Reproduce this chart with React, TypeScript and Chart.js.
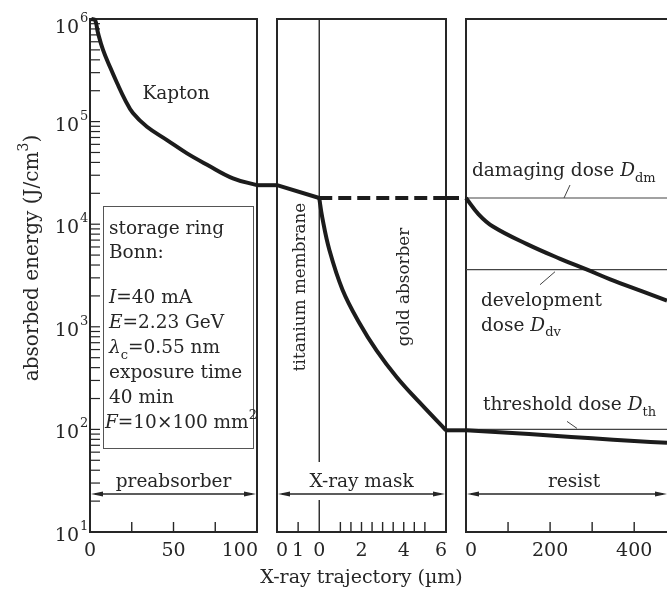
import React, { useEffect, useRef } from 'react';
import { Chart, registerables } from 'chart.js';

Chart.register(...registerables);

// ---------- data ----------
// Kapton preabsorber, depth in µm (0..100)
const kaptonX = [0.8, 3, 4.8, 7.8, 12, 16.2, 21, 25.7, 34.1, 46.1, 58.1, 70.1, 85.6, 100];
const kaptonY = [1.0e6, 9.8e5, 7.3e5, 5.0e5, 3.4e5, 2.38e5, 1.63e5, 1.21e5, 8.9e4, 6.6e4, 4.9e4, 3.8e4, 2.8e4, 2.4e4];
// gap between preabsorber and mask (no material)
const gap1X = [0, 1];
const gap1Y = [2.4e4, 2.4e4];
// titanium membrane, plotted as -2..0 µm on the mask axis
const titaniumX = [-2, 0];
const titaniumY = [2.4e4, 1.8e4];
// gold absorber 0..6 µm
const goldX = [0, 0.14, 0.48, 1.1, 1.9, 2.71, 3.67, 4.76, 6];
const goldY = [1.8e4, 1.17e4, 5.6e3, 2.3e3, 1.09e3, 590, 323, 182, 98];
// unabsorbed (open) path through the mask, dashed
const openMaskX = [0, 6];
const openMaskY = [1.8e4, 1.8e4];
const gap2X = [0, 1];
const gap2OpenY = [1.8e4, 1.8e4];
const gap2MaskedY = [98, 98];
// resist, depth in µm
const resistOpenX = [0, 30, 64, 145, 224, 288, 343, 421, 478];
const resistOpenY = [1.8e4, 1.25e4, 9.5e3, 6.4e3, 4.6e3, 3.6e3, 2.9e3, 2.2e3, 1.8e3];
const resistMaskedX = [0, 100, 200, 300, 400, 478];
const resistMaskedY = [98, 93, 87, 82, 77, 74];
// dose levels
const doseNames = ['damaging', 'development', 'threshold'];
const doseValues = [1.8e4, 3.6e3, 100];
const resistRange = [0, 478];

// axis ranges / ticks
const yDecades = [1, 2, 3, 4, 5, 6];
const kaptonRange = [0, 100];
const kaptonMinorTicks = [25, 50, 75];
const kaptonLabelValues = [0, 50, 100];
const kaptonLabelText = ['0', '50', '100'];
const maskRange = [-2, 6];
const maskMinorTicks = [-1, 1, 1.5, 2, 2.5, 3, 3.5, 4, 4.5, 5];
const maskLabelValues = [-2, -1, 0, 2, 4, 6];
const maskLabelText = ['0', '1', '0', '2', '4', '6'];
const resistMinorTicks = [100, 200, 300, 400];
const resistLabelValues = [0, 200, 400];
const resistLabelText = ['0', '200', '400'];

// ---------- drawing helpers ----------
const FF = '"DejaVu Serif", "Liberation Serif", serif';
const INK = '#262626';
const TEXT = 18.5;
const ROT_TEXT = 16.8;

type Seg = { t: string; it?: boolean; sub?: boolean; sup?: boolean };

function segFont(s: Seg, size: number) {
  const sz = s.sub || s.sup ? Math.round(size * 0.68) : size;
  return `${s.it ? 'italic ' : ''}${sz}px ${FF}`;
}
function richWidth(ctx: CanvasRenderingContext2D, segs: Seg[], size: number) {
  let w = 0;
  for (const s of segs) {
    ctx.font = segFont(s, size);
    w += ctx.measureText(s.t).width;
  }
  return w;
}
function drawRich(
  ctx: CanvasRenderingContext2D,
  segs: Seg[],
  x: number,
  y: number,
  size: number,
  align: 'left' | 'center' | 'right' = 'left'
) {
  const w = richWidth(ctx, segs, size);
  let cx = align === 'left' ? x : align === 'center' ? x - w / 2 : x - w;
  ctx.textAlign = 'left';
  ctx.textBaseline = 'alphabetic';
  for (const s of segs) {
    ctx.font = segFont(s, size);
    const dy = s.sub ? size * 0.3 : s.sup ? -size * 0.5 : 0;
    ctx.fillText(s.t, cx, y + dy);
    cx += ctx.measureText(s.t).width;
  }
}
function drawRotated(ctx: CanvasRenderingContext2D, segs: Seg[], cx: number, cy: number, size: number) {
  ctx.save();
  ctx.translate(cx, cy);
  ctx.rotate(-Math.PI / 2);
  drawRich(ctx, segs, 0, size * 0.35, size, 'center');
  ctx.restore();
}
function line(ctx: CanvasRenderingContext2D, x1: number, y1: number, x2: number, y2: number) {
  ctx.beginPath();
  ctx.moveTo(x1, y1);
  ctx.lineTo(x2, y2);
  ctx.stroke();
}
function arrow(ctx: CanvasRenderingContext2D, x1: number, x2: number, y: number) {
  ctx.lineWidth = 1.3;
  line(ctx, x1 + 4, y, x2 - 4, y);
  const L = 12, H = 2.6;
  ctx.beginPath();
  ctx.moveTo(x1, y);
  ctx.lineTo(x1 + L, y - H);
  ctx.lineTo(x1 + L, y + H);
  ctx.closePath();
  ctx.fill();
  ctx.beginPath();
  ctx.moveTo(x2, y);
  ctx.lineTo(x2 - L, y - H);
  ctx.lineTo(x2 - L, y + H);
  ctx.closePath();
  ctx.fill();
}

const pts = (xs: number[], ys: number[]) => xs.map((x, i) => ({ x, y: ys[i] }));

const decorPlugin = {
  id: 'decor',
  beforeDraw(chart: any) {
    const { ctx, width, height } = chart;
    ctx.save();
    ctx.fillStyle = '#ffffff';
    ctx.fillRect(0, 0, width, height);
    ctx.restore();
  },
  beforeDatasetsDraw(chart: any) {
    const { ctx, chartArea: ca, scales } = chart;
    const y = scales.y;
    const top = ca.top;
    const bottom = ca.bottom;
    const K = scales.xK, M = scales.xM, R = scales.xR;
    ctx.save();
    ctx.strokeStyle = INK;
    ctx.fillStyle = INK;
    // panel frames
    ctx.lineWidth = 2;
    ctx.strokeRect(K.left, top, K.right - K.left, bottom - top);
    ctx.strokeRect(M.left, top, M.right - M.left, bottom - top);
    ctx.beginPath();
    ctx.moveTo(R.right + 4, top);
    ctx.lineTo(R.left, top);
    ctx.lineTo(R.left, bottom);
    ctx.lineTo(R.right + 4, bottom);
    ctx.stroke();
    // y minor ticks (inside, panel 1)
    ctx.lineWidth = 1.2;
    for (const d of yDecades) {
      for (let m = 1; m <= 9; m++) {
        const v = m * Math.pow(10, d - 1);
        if (v < y.min || v > y.max) continue;
        const py = y.getPixelForValue(v);
        line(ctx, K.left, py, K.left + 10, py);
      }
    }
    line(ctx, K.left, y.getPixelForValue(1e6), K.left + 10, y.getPixelForValue(1e6));
    // x ticks (inside)
    ctx.lineWidth = 1.4;
    for (const v of kaptonMinorTicks) {
      const px = K.getPixelForValue(v);
      line(ctx, px, bottom, px, bottom - 10);
    }
    for (const v of maskMinorTicks) {
      const px = M.getPixelForValue(v);
      line(ctx, px, bottom, px, bottom - 10);
    }
    for (const v of resistMinorTicks) {
      const px = R.getPixelForValue(v);
      line(ctx, px, bottom, px, bottom - 10);
    }
    // titanium / gold divider
    const m0 = M.getPixelForValue(0);
    line(ctx, m0, top, m0, 462);
    line(ctx, m0, 500, m0, bottom);
    ctx.restore();
  },
  afterDatasetsDraw(chart: any) {
    const { ctx, chartArea: ca, scales } = chart;
    const y = scales.y;
    const K = scales.xK, M = scales.xM, R = scales.xR;
    ctx.save();
    ctx.fillStyle = INK;
    ctx.strokeStyle = INK;

    // y tick labels 10^n
    for (const d of yDecades) {
      const py = y.getPixelForValue(Math.pow(10, d));
      const base = Math.max(py + 9, ca.top + 14);
      ctx.font = `19px ${FF}`;
      ctx.textAlign = 'right';
      ctx.textBaseline = 'alphabetic';
      ctx.fillText('10', 79, base);
      ctx.font = `13px ${FF}`;
      ctx.textAlign = 'left';
      ctx.fillText(String(d), 80, base - 11);
    }
    // x tick labels
    const xl = (s: any, vals: number[], txt: string[], firstAlign: CanvasTextAlign, lastAlign: CanvasTextAlign) => {
      ctx.font = `19px ${FF}`;
      ctx.textBaseline = 'alphabetic';
      vals.forEach((v, i) => {
        let px = s.getPixelForValue(v);
        let al: CanvasTextAlign = 'center';
        if (i === 0) al = firstAlign;
        if (i === vals.length - 1) al = lastAlign;
        if (al === 'left') px -= 1;
        if (al === 'right') px += 1;
        ctx.textAlign = al;
        ctx.fillText(txt[i], px, 556);
      });
    };
    xl(K, kaptonLabelValues, kaptonLabelText, 'center', 'right');
    xl(M, maskLabelValues, maskLabelText, 'left', 'right');
    xl(R, resistLabelValues, resistLabelText, 'left', 'center');

    // axis titles
    drawRich(ctx, [{ t: 'X-ray trajectory (µm)' }], (M.left + M.right) / 2, 583, 19, 'center');
    drawRotated(ctx, [{ t: 'absorbed energy (J/cm' }, { t: '3', sup: true }, { t: ')' }], 31, 258, 20);

    // panel 1 texts
    drawRich(ctx, [{ t: 'Kapton' }], 176, 99, TEXT, 'center');
    ctx.lineWidth = 1;
    ctx.strokeStyle = '#555';
    ctx.strokeRect(103.5, 206.5, 150, 242);
    const lx = 109;
    drawRich(ctx, [{ t: 'storage ring' }], lx, 234, TEXT);
    drawRich(ctx, [{ t: 'Bonn:' }], lx, 258, TEXT);
    drawRich(ctx, [{ t: 'I', it: true }, { t: '=40 mA' }], lx, 303, TEXT);
    drawRich(ctx, [{ t: 'E', it: true }, { t: '=2.23 GeV' }], lx, 328, TEXT);
    drawRich(ctx, [{ t: 'λ', it: true }, { t: 'c', sub: true }, { t: '=0.55 nm' }], lx, 353, TEXT);
    drawRich(ctx, [{ t: 'exposure time' }], lx, 378, TEXT);
    drawRich(ctx, [{ t: '40 min' }], lx, 403, TEXT);
    drawRich(ctx, [{ t: 'F', it: true }, { t: '=10×100 mm' }, { t: '2', sup: true }], 105, 428, TEXT);

    // region labels with arrows
    ctx.strokeStyle = INK;
    ctx.fillStyle = INK;
    drawRich(ctx, [{ t: 'preabsorber' }], (K.left + K.right) / 2, 487, TEXT, 'center');
    drawRich(ctx, [{ t: 'X-ray mask' }], (M.left + M.right) / 2, 487, TEXT, 'center');
    drawRich(ctx, [{ t: 'resist' }], 574, 487, TEXT, 'center');
    arrow(ctx, K.left + 1, K.right - 1, 494);
    arrow(ctx, M.left + 1, M.right - 1, 494);
    arrow(ctx, R.left + 1, R.right, 494);

    // mask rotated labels
    drawRotated(ctx, [{ t: 'titanium membrane' }], 299, 287, ROT_TEXT);
    drawRotated(ctx, [{ t: 'gold absorber' }], 403, 287, ROT_TEXT);

    // dose labels and leaders
    const yDm = y.getPixelForValue(doseValues[0]);
    const yDv = y.getPixelForValue(doseValues[1]);
    const yTh = y.getPixelForValue(doseValues[2]);
    drawRich(ctx, [{ t: 'damaging dose ' }, { t: 'D', it: true }, { t: 'dm', sub: true }], 472, yDm - 22, TEXT);
    drawRich(ctx, [{ t: 'development' }], 481, yDv + 36, TEXT);
    drawRich(ctx, [{ t: 'dose ' }, { t: 'D', it: true }, { t: 'dv', sub: true }], 481, yDv + 61, TEXT);
    drawRich(ctx, [{ t: 'threshold dose ' }, { t: 'D', it: true }, { t: 'th', sub: true }], 483, yTh - 19, TEXT);
    ctx.lineWidth = 1;
    ctx.strokeStyle = '#444';
    line(ctx, 564, yDm, 570, yDm - 13);
    line(ctx, 540, yDv + 15, 555, yDv + 2);
    line(ctx, 567, yTh - 8, 577, yTh - 1);
    ctx.restore();
  },
};

export default function App() {
  const ref = useRef<HTMLCanvasElement | null>(null);

  useEffect(() => {
    if (!ref.current) return;
    const curve = (data: any[], xAxisID: string, extra: any = {}) => ({
      type: 'line',
      data,
      xAxisID,
      yAxisID: 'y',
      borderColor: '#1c1c1c',
      borderWidth: 4,
      pointRadius: 0,
      fill: false,
      tension: 0,
      borderJoinStyle: 'round',
      clip: false,
      order: 0,
      ...extra,
    });
    const thin = (value: number) => ({
      type: 'line',
      data: pts(resistRange, [value, value]),
      xAxisID: 'xR',
      yAxisID: 'y',
      borderColor: '#444',
      borderWidth: 1.2,
      pointRadius: 0,
      fill: false,
      clip: false,
      order: 2,
    });
    const datasets: any[] = [
      curve(pts(kaptonX, kaptonY), 'xK', { tension: 0.4 }),
      curve(pts(gap1X, gap1Y), 'xG1'),
      curve(pts(titaniumX, titaniumY), 'xM'),
      curve(pts(goldX, goldY), 'xM', { tension: 0.4 }),
      curve(pts(openMaskX, openMaskY), 'xM', { borderDash: [13, 6] }),
      curve(pts(gap2X, gap2OpenY), 'xG2', { borderDash: [13, 6] }),
      curve(pts(gap2X, gap2MaskedY), 'xG2'),
      curve(pts(resistOpenX, resistOpenY), 'xR', { tension: 0.4 }),
      curve(pts(resistMaskedX, resistMaskedY), 'xR', { tension: 0.4 }),
      ...doseValues.map((v) => thin(v)),
    ];
    datasets.forEach((d, i) => {
      if (i >= datasets.length - doseValues.length) d.label = doseNames[i - (datasets.length - doseValues.length)];
    });
    const xs = (min: number, max: number, weight: number) => ({
      type: 'linear',
      position: 'bottom',
      stack: 'x',
      stackWeight: weight,
      min,
      max,
      display: false,
    });
    const chart = new Chart(ref.current, {
      type: 'line',
      data: { datasets },
      options: {
        animation: false,
        responsive: false,
        devicePixelRatio: 1,
        events: [],
        layout: { padding: { left: 90, right: 0, top: 19, bottom: 60 } },
        plugins: { legend: { display: false }, tooltip: { enabled: false } },
        scales: {
          y: { type: 'logarithmic', position: 'left', min: 10, max: 1e6, display: false },
          xK: xs(kaptonRange[0], kaptonRange[1], 167),
          xG1: xs(0, 1, 20),
          xM: xs(maskRange[0], maskRange[1], 169),
          xG2: xs(0, 1, 20),
          xR: xs(resistRange[0], resistRange[1], 201),
        },
      } as any,
      plugins: [decorPlugin],
    } as any);
    return () => chart.destroy();
  }, []);

  return (
    <div style={{ position: 'absolute', left: 0, top: 0, width: 667, height: 592, background: '#fff' }}>
      <canvas ref={ref} width={667} height={592} style={{ display: 'block', width: 667, height: 592 }} />
    </div>
  );
}
